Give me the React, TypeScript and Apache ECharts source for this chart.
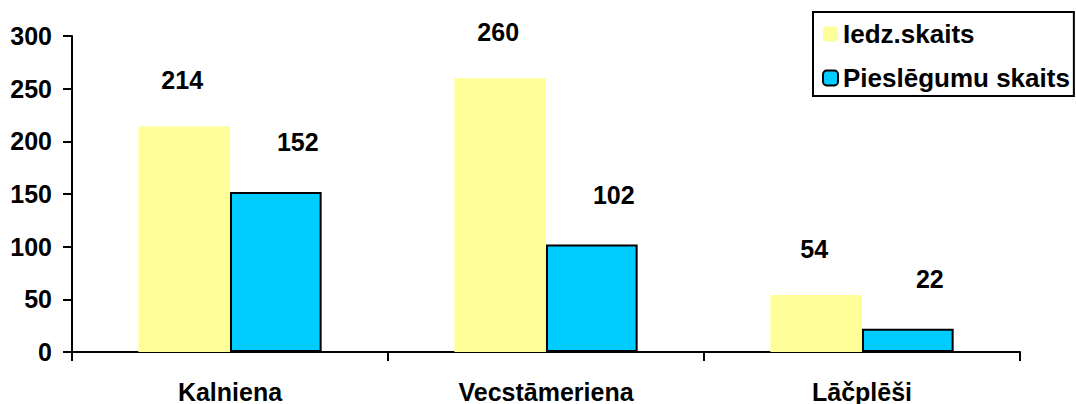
import React, { useEffect, useRef } from "react";
import * as echarts from "echarts";

const categories = ["Kalniena", "Vecstāmeriena", "Lāčplēši"];
const iedzSkaits = [214, 260, 54];
const pieslegumuSkaits = [152, 102, 22];
const yTicks = { min: 0, max: 300, interval: 50 };

const FONT = "'Liberation Sans', Arial, sans-serif";
const FS = 25;

export default function App() {
  const ref = useRef<HTMLDivElement>(null);
  useEffect(() => {
    if (!ref.current) return;
    const chart = echarts.init(ref.current, undefined, { renderer: "svg" });
    chart.setOption({
      animation: false,
      textStyle: { fontFamily: FONT },
      grid: { left: 72, right: 56, top: 36, bottom: 52 },
      legend: {
        orient: "vertical",
        left: 813,
        top: 12,
        borderColor: "#000",
        borderWidth: 2,
        padding: [9, 4, 5, 9],
        itemWidth: 15,
        itemHeight: 15,
        itemGap: 18,
        textStyle: { fontSize: 26, fontWeight: "bold", color: "#000", fontFamily: FONT },
        data: ["Iedz.skaits", "Pieslēgumu skaits"],
      },
      xAxis: {
        type: "category",
        data: categories,
        axisLine: { lineStyle: { color: "#000", width: 2 } },
        axisTick: { show: true, length: 9, interval: 0, lineStyle: { color: "#000", width: 2 } },
        axisLabel: { fontSize: FS, fontWeight: "bold", color: "#000", margin: 27, fontFamily: FONT },
      },
      yAxis: {
        type: "value",
        min: yTicks.min,
        max: yTicks.max,
        interval: yTicks.interval,
        splitLine: { show: false },
        axisLine: { show: true, lineStyle: { color: "#000", width: 2 } },
        axisTick: { show: true, length: 9, lineStyle: { color: "#000", width: 2 } },
        axisLabel: { fontSize: FS, fontWeight: "bold", color: "#000", margin: 20, fontFamily: FONT },
      },
      series: [
        {
          name: "Iedz.skaits",
          type: "bar",
          data: iedzSkaits,
          barGap: "0%",
          barCategoryGap: "42%",
          itemStyle: { color: "#FFFF99" },
          label: {
            show: true,
            position: "top",
            distance: 34,
            offset: [-2, 0],
            fontSize: FS,
            fontWeight: "bold",
            color: "#000",
            fontFamily: FONT,
          },
        },
        {
          name: "Pieslēgumu skaits",
          type: "bar",
          data: pieslegumuSkaits,
          barGap: "0%",
          barCategoryGap: "42%",
          itemStyle: { color: "#00CCFF", borderColor: "#000", borderWidth: 2 },
          label: {
            show: true,
            position: "top",
            distance: 37,
            offset: [22, 0],
            fontSize: FS,
            fontWeight: "bold",
            color: "#000",
            fontFamily: FONT,
          },
        },
      ],
    });
    return () => chart.dispose();
  }, []);
  return <div ref={ref} style={{ width: 1076, height: 404, position: "absolute", left: 0, top: 0, background: "#fff" }} />;
}
